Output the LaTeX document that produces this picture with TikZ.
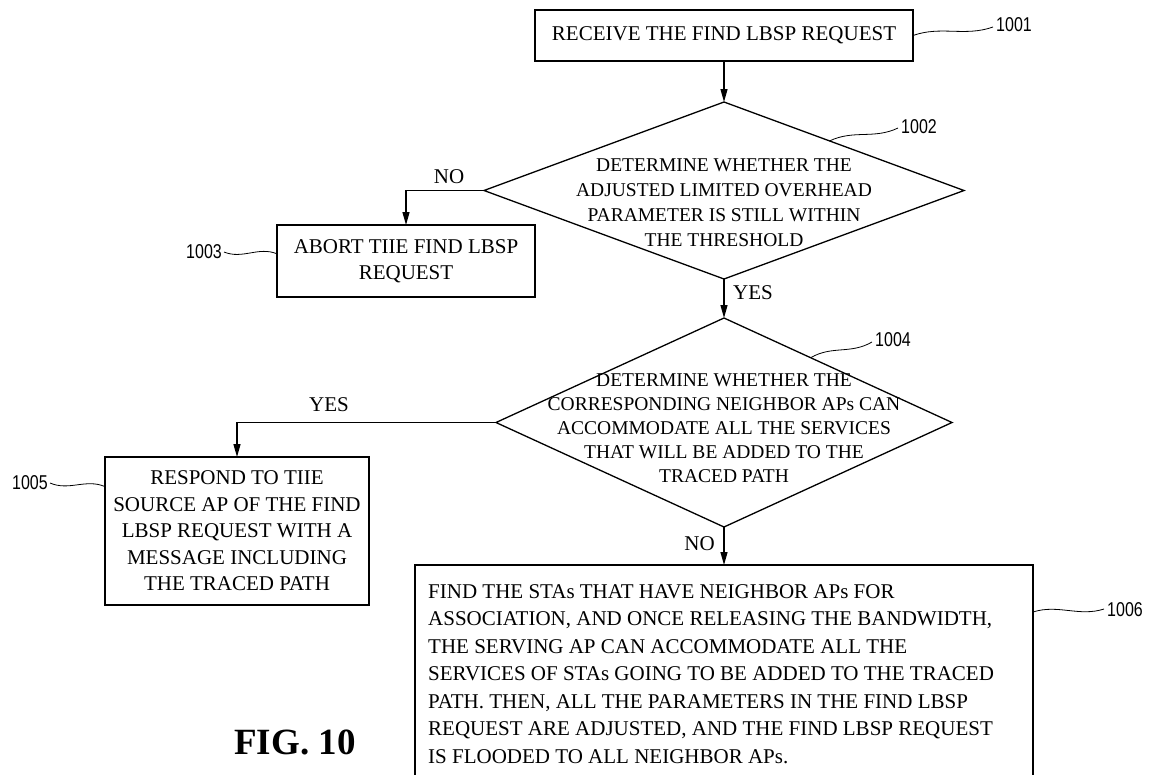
\documentclass[tikz,border=0pt]{standalone}
\usepackage{fontspec}
\setmainfont{Liberation Serif}
\newfontfamily\numfont[FakeStretch=0.8]{Liberation Sans}
\usetikzlibrary{arrows.meta,shapes.geometric,calc}
\begin{document}
\begin{tikzpicture}[x=1pt,y=-1pt,
  box/.style={draw, line width=1.3pt, inner sep=0pt, outer sep=0pt, align=center, font=\fontsize{21}{26.5}\selectfont},
  dia/.style={draw, diamond, line width=1.3pt, inner sep=0pt, outer sep=0pt},
  dtext/.style={align=center, font=\fontsize{19.5}{25}\selectfont, inner sep=0pt},
  btext/.style={align=left, font=\fontsize{21}{27.5}\selectfont, inner sep=0pt},
  arr/.style={line width=1.3pt, -{Triangle[length=13pt,width=7pt]}},
  lead/.style={line width=0.8pt},
  num/.style={font=\numfont\fontsize{20}{20}\selectfont, inner sep=0pt},
  lbl/.style={font=\fontsize{21}{21}\selectfont, inner sep=0pt}]
\useasboundingbox (0,0) rectangle (1155,774);

% boxes and decisions
\node[box, minimum width=378pt, minimum height=51pt] (b1) at (724,35.5) {RECEIVE THE FIND LBSP REQUEST};
\node[dia, minimum width=480pt, minimum height=177pt] (d2) at (724,190.5) {};
\node[dtext] (t2) at (724,203) {DETERMINE WHETHER THE\\ADJUSTED LIMITED OVERHEAD\\PARAMETER IS STILL WITHIN\\THE THRESHOLD};
\node[box, minimum width=258pt, minimum height=72pt] (b3) at (406,261) {ABORT TIIE FIND LBSP\\REQUEST};
\node[dia, minimum width=456pt, minimum height=209pt] (d4) at (724,422.5) {};
\node[dtext, font=\fontsize{19.5}{24}\selectfont] (t4) at (724,428) {DETERMINE WHETHER THE\\CORRESPONDING NEIGHBOR APs CAN\\ACCOMMODATE ALL THE SERVICES\\THAT WILL BE ADDED TO THE\\TRACED PATH};
\node[box, minimum width=264pt, minimum height=148pt] (b5) at (237,531) {RESPOND TO TIIE\\SOURCE AP OF THE FIND\\LBSP REQUEST WITH A\\MESSAGE INCLUDING\\THE TRACED PATH};
\node[box, minimum width=618pt, minimum height=235pt] (b6) at (724,682.5) {};
\node[btext, anchor=north west] (t6) at (428,584) {FIND THE STAs THAT HAVE NEIGHBOR APs FOR\\ASSOCIATION, AND ONCE RELEASING THE BANDWIDTH,\\THE SERVING AP CAN ACCOMMODATE ALL THE\\SERVICES OF STAs GOING TO BE ADDED TO THE TRACED\\PATH. THEN, ALL THE PARAMETERS IN THE FIND LBSP\\REQUEST ARE ADJUSTED, AND THE FIND LBSP REQUEST\\IS FLOODED TO ALL NEIGHBOR APs.};

% connectors
\draw[arr] (b1.south) -- (d2.north);
\draw[arr] (d2.west) -| (b3.north);
\draw[arr] (d2.south) -- (d4.north);
\draw[arr] (d4.west) -| (b5.north);
\draw[arr] (d4.south) -- (b6.north);

% branch labels
\node[lbl] (no1) at (449,177) {NO};
\node[lbl, anchor=west] (yes1) at (733,293) {YES};
\node[lbl] (yes2) at (329,405) {YES};
\node[lbl, anchor=east] (no2) at (715,544) {NO};

% reference numerals
\node[num, anchor=west] (n1001) at (996,25) {1001};
\coordinate (e1001) at (993,27);
\draw[lead] (b1.east) .. controls ($(b1.east)!0.35!(e1001)+(0,-7)$) and ($(b1.east)!0.65!(e1001)+(0,7)$) .. (e1001);

\node[num, anchor=west] (n1002) at (901,127) {1002};
\coordinate (s1002) at ($(d2.north)!0.44!(d2.east)$);
\coordinate (e1002) at (898,128);
\draw[lead] (s1002) .. controls ($(s1002)!0.35!(e1002)+(0,-7)$) and ($(s1002)!0.65!(e1002)+(0,7)$) .. (e1002);

\node[num, anchor=east] (n1003) at (222,252) {1003};
\coordinate (s1003) at (224,252);
\coordinate (e1003) at ($(b3.north west)!0.4!(b3.south west)$);
\draw[lead] (s1003) .. controls ($(s1003)!0.35!(e1003)+(0,7)$) and ($(s1003)!0.65!(e1003)+(0,-7)$) .. (e1003);

\node[num, anchor=west] (n1004) at (875,340) {1004};
\coordinate (s1004) at ($(d4.north)!0.38!(d4.east)$);
\coordinate (e1004) at (872,342);
\draw[lead] (s1004) .. controls ($(s1004)!0.35!(e1004)+(0,-7)$) and ($(s1004)!0.65!(e1004)+(0,7)$) .. (e1004);

\node[num, anchor=east] (n1005) at (48,483) {1005};
\coordinate (s1005) at (50,483);
\coordinate (e1005) at ($(b5.north west)!0.2!(b5.south west)$);
\draw[lead] (s1005) .. controls ($(s1005)!0.35!(e1005)+(0,7)$) and ($(s1005)!0.65!(e1005)+(0,-7)$) .. (e1005);

\node[num, anchor=west] (n1006) at (1107,610) {1006};
\coordinate (s1006) at ($(b6.north east)+(0,47)$);
\coordinate (e1006) at (1104,609);
\draw[lead] (s1006) .. controls ($(s1006)!0.35!(e1006)+(0,-7)$) and ($(s1006)!0.65!(e1006)+(0,7)$) .. (e1006);

\node[font=\bfseries\fontsize{37}{37}\selectfont, inner sep=0pt] (fig) at (295,742) {FIG. 10};
\end{tikzpicture}
\end{document}
